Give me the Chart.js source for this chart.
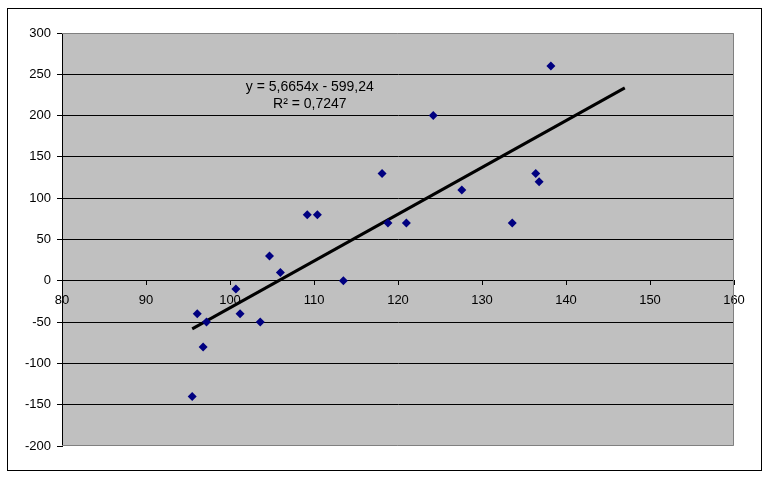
<!DOCTYPE html>
<html>
<head>
<meta charset="utf-8">
<script src="https://cdn.jsdelivr.net/npm/chart.js@4"></script>
<style>
  body { margin: 0; background: #fff; }
  #wrap { position: relative; width: 768px; height: 478px; }
</style>
</head>
<body>
<div id="wrap"><canvas id="myChart"></canvas></div>
<script>
// values
const xValues = [95.5, 96.1, 96.8, 97.2, 100.7, 101.2, 103.6, 104.7, 106.0, 109.2, 110.4,
                 113.5, 118.1, 118.8, 121.0, 124.2, 127.6, 133.6, 136.4, 136.8, 138.2];
const yValues = [-140, -40, -80, -50, -10, -40, -50, 30, 10, 80, 80,
                 0, 130, 70, 70, 200, 110, 70, 130, 120, 260];
const yTicks = [-200, -150, -100, -50, 0, 50, 100, 150, 200, 250, 300];
const xTicks = [80, 90, 100, 110, 120, 130, 140, 150, 160];

// trendline as printed on the chart
const slope = 5.6654;
const intercept = -599.24;
const trendX = [95.5, 147];
const eqLines = ['y = 5,6654x - 599,24', 'R\u00b2 = 0,7247'];

const points = xValues.map((x, i) => ({ x: x, y: yValues[i] }));
const trend = trendX.map(x => ({ x: x, y: slope * x + intercept }));

const frame = {
  id: 'frame',
  beforeDraw(chart) {
    const c = chart.ctx, a = chart.chartArea;
    c.save();
    c.fillStyle = '#c0c0c0';
    c.fillRect(a.left, a.top, a.right - a.left, a.bottom - a.top);
    c.restore();
  },
  afterDatasetsDraw(chart) {
    const c = chart.ctx, a = chart.chartArea;
    c.save();
    c.strokeStyle = '#808080';
    c.lineWidth = 1;
    c.beginPath();
    c.moveTo(a.left, a.top + 0.5);
    c.lineTo(a.right - 0.5, a.top + 0.5);
    c.lineTo(a.right - 0.5, a.bottom - 0.5);
    c.lineTo(a.left, a.bottom - 0.5);
    c.stroke();
    // outer chart border
    c.strokeStyle = '#000';
    c.strokeRect(7.5, 8.5, 754, 462);
    // equation label
    const xs = chart.scales.x, ys = chart.scales.y;
    c.fillStyle = '#000';
    c.font = '14px "Liberation Sans", Arial, sans-serif';
    c.textAlign = 'center';
    c.textBaseline = 'middle';
    c.fillText(eqLines[0], xs.getPixelForValue(109.5), ys.getPixelForValue(234));
    c.fillText(eqLines[1], xs.getPixelForValue(109.5), ys.getPixelForValue(214));
    c.restore();
  }
};

const ctx = document.getElementById('myChart');

const chrt = new Chart(ctx, {
  type: 'scatter',
  data: {
    datasets: [
      {
        label: 'data',
        data: points,
        pointStyle: 'rectRot',
        pointRadius: 4.5,
        pointHoverRadius: 4.5,
        backgroundColor: '#000080',
        borderColor: '#000080',
        borderWidth: 0
      },
      {
        label: 'trend',
        type: 'line',
        data: trend,
        showLine: true,
        pointRadius: 0,
        borderColor: '#000',
        borderWidth: 3,
        fill: false
      }
    ]
  },
  options: {
    responsive: true,
    maintainAspectRatio: false,
    animation: false,
    layout: { padding: { left: 0, top: 33, right: 34, bottom: 32 } },
    plugins: { legend: { display: false }, tooltip: { enabled: false } },
    scales: {
      x: {
        type: 'linear',
        position: { y: 0 },
        min: 80,
        max: 160,
        afterBuildTicks: s => { s.ticks = xTicks.map(v => ({ value: v })); },
        border: { display: true, color: '#000', width: 1 },
        grid: { drawOnChartArea: false, drawTicks: true, tickLength: 4, color: '#000' },
        ticks: {
          color: '#000',
          padding: 8,
          maxRotation: 0,
          font: { family: '"Liberation Sans", Arial, sans-serif', size: 13 }
        }
      },
      y: {
        min: -200,
        max: 300,
        afterBuildTicks: s => { s.ticks = yTicks.map(v => ({ value: v })); },
        afterFit: s => { s.width = 62; },
        border: { display: true, color: '#000', width: 1 },
        grid: {
          color: c => (c.tick && (c.tick.value === 300 || c.tick.value === -200)) ? 'rgba(0,0,0,0)' : '#000',
          tickColor: '#000',
          tickLength: 5
        },
        ticks: {
          color: '#000',
          padding: 6,
          font: { family: '"Liberation Sans", Arial, sans-serif', size: 13 }
        }
      }
    }
  },
  plugins: [frame]
});
</script>
</body>
</html>
